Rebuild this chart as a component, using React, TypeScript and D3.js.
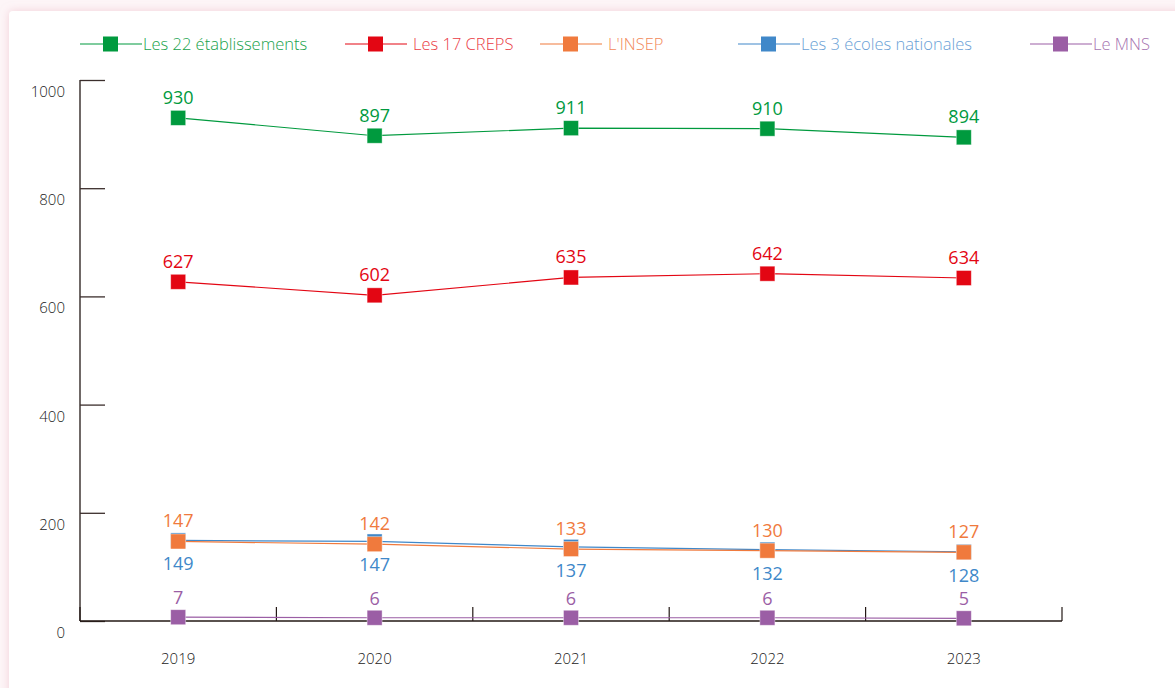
import { useEffect, useRef } from "react"
import * as d3 from "d3"

const years = ["2019", "2020", "2021", "2022", "2023"]
const seriesNames = [
  "Les 22 établissements",
  "Les 17 CREPS",
  "L'INSEP",
  "Les 3 écoles nationales",
  "Le MNS",
]
const etablissements = [930, 897, 911, 910, 894]
const creps = [627, 602, 635, 642, 634]
const insep = [147, 142, 133, 130, 127]
const ecoles = [149, 147, 137, 132, 128]
const mns = [7, 6, 6, 6, 5]
const yTicks = [0, 200, 400, 600, 800, 1000]

const colors = ["#009a3e", "#e30613", "#f07a3d", "#4088c9", "#9b5ea5"]
const legendText = ["#17a24c", "#ea3a45", "#f2895a", "#6a9fd6", "#a673b0"]

interface Series {
  name: string
  values: number[]
  color: string
  labelDy: number
}

export default function App() {
  const svgRef = useRef<SVGSVGElement>(null)

  useEffect(() => {
    if (!svgRef.current) return
    const root = d3.select(svgRef.current)
    root.selectAll("*").remove()

    const width = 1175
    const height = 688
    const font = "'Open Sans', 'DejaVu Sans', sans-serif"

    root.attr("width", width).attr("height", height)

    // page card with a soft pink shadow
    const defs = root.append("defs")
    const f = defs.append("filter").attr("id", "shadow").attr("x", "-5%").attr("y", "-5%").attr("width", "110%").attr("height", "110%")
    f.append("feDropShadow").attr("dx", 0).attr("dy", 0).attr("stdDeviation", 4).attr("flood-color", "#e9a9b8").attr("flood-opacity", 0.5)
    root.append("rect").attr("width", width).attr("height", height).attr("fill", "#fdf5f7")
    root
      .append("rect")
      .attr("x", 9)
      .attr("y", 11)
      .attr("width", width + 20)
      .attr("height", height + 20)
      .attr("rx", 4)
      .attr("fill", "#fff")
      .attr("filter", "url(#shadow)")

    const x = d3.scaleBand().domain(years).range([80, 1062]).padding(0)
    const y = d3.scaleLinear().domain([0, 1000]).range([621, 80])
    const cx = (d: string) => (x(d) || 0) + x.bandwidth() / 2

    const g = root.append("g")

    // Y axis: ticks drawn inward
    const yAxis = g.append("g").attr("transform", "translate(80,0)").call(d3.axisRight(y).tickValues(yTicks).tickSize(25).tickFormat(() => ""))
    yAxis.select(".domain").attr("stroke", "#231815").attr("stroke-width", 1.3).attr("d", `M0,${y(0)}V${y(1000)}`)
    yAxis.selectAll(".tick line").attr("stroke", "#3b2e2c").attr("stroke-width", 1.3)
    g.selectAll(".ylab")
      .data(yTicks)
      .enter()
      .append("text")
      .attr("x", 65)
      .attr("y", (d) => y(d) + 17)
      .attr("text-anchor", "end")
      .style("font-family", font)
      .style("font-size", "15px")
      .style("font-weight", 300)
      .style("fill", "#222")
      .text((d) => d)

    // X axis: ticks at band edges, pointing up
    const edges = years.map((d) => x(d) || 0).concat([1062])
    g.append("line").attr("x1", 80).attr("x2", 1062).attr("y1", y(0)).attr("y2", y(0)).attr("stroke", "#231815").attr("stroke-width", 1.3)
    g.selectAll(".xtick")
      .data(edges)
      .enter()
      .append("line")
      .attr("x1", (d) => d)
      .attr("x2", (d) => d)
      .attr("y1", y(0))
      .attr("y2", y(0) - 14)
      .attr("stroke", "#231815")
      .attr("stroke-width", 1.2)
    g.selectAll(".xlab")
      .data(years)
      .enter()
      .append("text")
      .attr("x", cx)
      .attr("y", 664)
      .attr("text-anchor", "middle")
      .style("font-family", font)
      .style("font-size", "15px")
      .style("font-weight", 300)
      .style("fill", "#222")
      .text((d) => d)

    const series: Series[] = [
      { name: seriesNames[0], values: etablissements, color: colors[0], labelDy: -14 },
      { name: seriesNames[1], values: creps, color: colors[1], labelDy: -14 },
      { name: seriesNames[3], values: ecoles, color: colors[3], labelDy: 30 },
      { name: seriesNames[2], values: insep, color: colors[2], labelDy: -14 },
      { name: seriesNames[4], values: mns, color: colors[4], labelDy: -13 },
    ]

    const line = d3
      .line<number>()
      .x((_, i) => cx(years[i]))
      .y((d) => y(d))

    series.forEach((s) => {
      g.append("path").datum(s.values).attr("fill", "none").attr("stroke", s.color).attr("stroke-width", 1.2).attr("d", line)
      g.selectAll(null)
        .data(s.values)
        .enter()
        .append("rect")
        .attr("x", (_, i) => cx(years[i]) - 7.5)
        .attr("y", (d) => y(d) - 7.5)
        .attr("width", 15)
        .attr("height", 15)
        .attr("fill", s.color)
        .attr("stroke", "#fff")
        .attr("stroke-opacity", 0.5)
        .attr("stroke-width", 0.8)
    })

    series.forEach((s) => {
      g.selectAll(null)
        .data(s.values)
        .enter()
        .append("text")
        .attr("x", (_, i) => cx(years[i]))
        .attr("y", (d) => y(d) + s.labelDy)
        .attr("text-anchor", "middle")
        .style("font-family", font)
        .style("font-size", "18px")
        .style("fill", s.color)
        .text((d) => d)
    })

    // Legend
    const legendX = [80, 345, 540, 738, 1030]
    const leg = g
      .selectAll(".legend")
      .data(seriesNames)
      .enter()
      .append("g")
      .attr("transform", (_, i) => `translate(${legendX[i]},44)`)
    leg.append("line").attr("x1", 0).attr("x2", 62).attr("stroke", (_, i) => colors[i]).attr("stroke-width", 1.2)
    leg.append("rect").attr("x", 23).attr("y", -7.5).attr("width", 15).attr("height", 15).attr("fill", (_, i) => colors[i])
    leg
      .append("text")
      .attr("x", (_, i) => (i === 1 || i === 2 ? 68 : 63))
      .attr("y", 6)
      .style("font-family", font)
      .style("font-size", "16.5px")
      .style("font-weight", 300)
      .style("fill", (_, i) => legendText[i])
      .text((d) => d)
  }, [])

  return <svg ref={svgRef} style={{ display: "block", position: "absolute", left: 0, top: 0 }}></svg>
}
